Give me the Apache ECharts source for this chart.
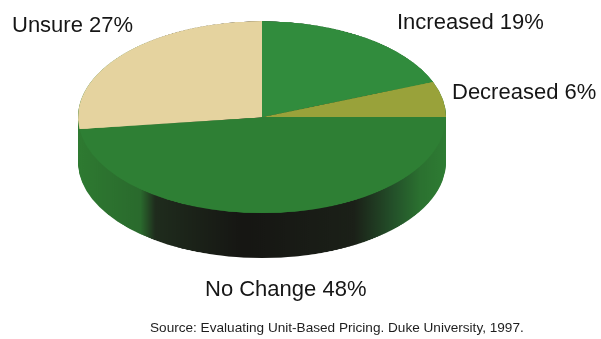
<!DOCTYPE html>
<html>
<head>
<meta charset="utf-8">
<script src="https://cdn.jsdelivr.net/npm/echarts@6/dist/echarts.min.js"></script>
<style>
html,body{margin:0;padding:0;background:#fff;overflow:hidden;}
#wrap{position:relative;width:601px;height:339px;overflow:hidden;}
#pie{position:absolute;left:0;top:16px;width:601px;height:560px;transform:scaleY(0.5217);transform-origin:0 0;}
#labels{position:absolute;left:0;top:0;width:601px;height:339px;}
</style>
</head>
<body>
<div id="wrap"><div id="pie"></div><div id="labels"></div></div>
<script>
// ---- data ----
const categories = ['Increased', 'Decreased', 'No Change', 'Unsure'];
const values = [19, 6, 48, 27];
const sourceText = 'Source: Evaluating Unit-Based Pricing. Duke University, 1997.';

// ---- styles ----
const topColors = ['#318c3d', '#99a23a', '#2e7f34', '#e5d39f'];
const cx = 262, cy = 194, R = 184, depth = 86, layers = 44;

const sideGradient = new echarts.graphic.LinearGradient(cx - R, 0, cx + R, 0, [
  { offset: 0, color: '#2e7a31' },
  { offset: 0.17, color: '#2a6a2d' },
  { offset: 0.21, color: '#1f2c1d' },
  { offset: 0.45, color: '#161613' },
  { offset: 0.75, color: '#1b2018' },
  { offset: 0.86, color: '#24522a' },
  { offset: 0.93, color: '#2b7130' },
  { offset: 1, color: '#2e7c33' }
], true);

const pieData = categories.map((c, i) => ({ name: c, value: values[i] }));

const series = [];
for (let k = layers - 1; k >= 0; k--) {
  series.push({
    type: 'pie',
    silent: true,
    animation: false,
    radius: R,
    center: [cx, cy + depth * k / (layers - 1)],
    startAngle: 90,
    clockwise: true,
    label: { show: false },
    labelLine: { show: false },
    emphasis: { disabled: true },
    itemStyle: { color: sideGradient, borderWidth: 0 },
    data: pieData,
    z: 1
  });
}
series.push({
  type: 'pie',
  silent: true,
  animation: false,
  radius: R,
  center: [cx, cy],
  startAngle: 90,
  clockwise: true,
  label: { show: false },
  labelLine: { show: false },
  emphasis: { disabled: true },
  itemStyle: { borderWidth: 0 },
  data: pieData.map((d, i) => ({ ...d, itemStyle: { color: topColors[i] } })),
  z: 5
});

const pieChart = echarts.init(document.getElementById('pie'), null, { renderer: 'canvas' });
pieChart.setOption({ animation: false, series });

// labels
const labelPos = {
  'Increased': { x: 397, y: 24 },
  'Decreased': { x: 452, y: 94 },
  'No Change': { x: 205, y: 291 },
  'Unsure': { x: 12, y: 27 }
};
const font = '"Liberation Sans", Arial, Helvetica, sans-serif';
const graphics = categories.map((c, i) => ({
  type: 'text',
  left: labelPos[c].x,
  top: labelPos[c].y - 12,
  style: { text: c + ' ' + values[i] + '%', fontSize: 22, fontFamily: font, fill: '#161616' }
}));
graphics.push({
  type: 'text',
  left: 150,
  top: 321,
  style: { text: sourceText, fontSize: 13.6, fontFamily: font, fill: '#1e1e1e' }
});
const labelChart = echarts.init(document.getElementById('labels'));
labelChart.setOption({ animation: false, graphic: graphics });
</script>
</body>
</html>
